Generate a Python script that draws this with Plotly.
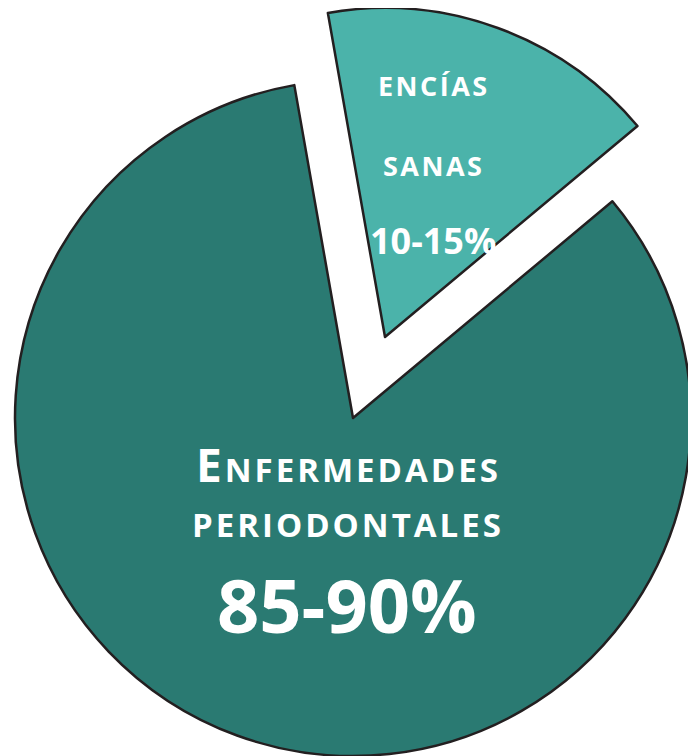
import plotly.graph_objects as go

# ---- data ----
labels = ["Encías sanas", "Enfermedades periodontales"]
values = [16.7, 83.3]
slice_colors = ["#4bb3aa", "#2a7a72"]
pct_labels = ["10-15%", "85-90%"]

W, H = 716, 756
OFF = 8  # page body margin
TRANSP = "rgba(0,0,0,0)"
EDGE = "#231f20"


def dom(cx, cy, r):
    cx -= OFF
    cy -= OFF
    return dict(x=[(cx - r) / W, (cx + r) / W], y=[1 - (cy + r) / H, 1 - (cy - r) / H])


fig = go.Figure()
# main (large) slice
fig.add_trace(go.Pie(
    labels=labels, values=values, sort=False, direction="clockwise", rotation=-10,
    marker=dict(colors=[TRANSP, slice_colors[1]], line=dict(color=[TRANSP, EDGE], width=[0, 2.5])),
    textinfo="none", hoverinfo="label", showlegend=False,
    domain=dom(353, 418, 338),
))
# exploded small slice
fig.add_trace(go.Pie(
    labels=labels, values=values, sort=False, direction="clockwise", rotation=-10,
    marker=dict(colors=[slice_colors[0], TRANSP], line=dict(color=[EDGE, TRANSP], width=[2.5, 0])),
    textinfo="none", hoverinfo="label", showlegend=False,
    domain=dom(385, 337, 329),
))

FONT = "Open Sans"


def ann(text, px, py, size, weight=700):
    fig.add_annotation(text=text, x=(px - OFF) / W, y=1 - (py - OFF) / H, xref="paper", yref="paper",
                       xanchor="center", yanchor="middle", showarrow=False,
                       font=dict(family=FONT, size=size, color="white", weight=weight))


ann('<span style="letter-spacing:3px"><span style="font-size:46px">E</span>NFERMEDADES</span>', 348, 464, 33)
ann('<span style="letter-spacing:3px">PERIODONTALES</span>', 348, 524, 33)
ann(pct_labels[1], 347, 604, 74)
ann('<span style="letter-spacing:2.5px">ENCÍAS</span>', 434, 86, 27)
ann('<span style="letter-spacing:2.5px">SANAS</span>', 434, 166, 27)
ann(pct_labels[0], 433, 241, 36)

fig.update_layout(width=W, height=H, margin=dict(l=0, r=0, t=0, b=0),
                  paper_bgcolor="white", plot_bgcolor="white")
fig.write_html("out.html")
